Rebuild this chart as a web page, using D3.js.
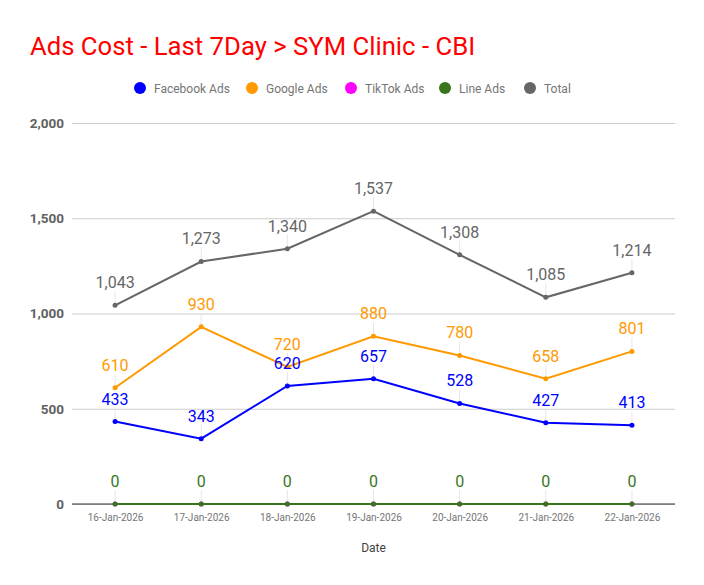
<!DOCTYPE html>
<html>
<head>
<meta charset="utf-8">
<script src="https://cdn.jsdelivr.net/npm/d3@7"></script>
<style>
  body { margin: 0; background: #fff; }
  text { font-family: Roboto, "Noto Sans", sans-serif; }
</style>
</head>
<body>
<script>
const svgWidth = 704;
const svgHeight = 585;

// data
const dates = ["16-Jan-2026", "17-Jan-2026", "18-Jan-2026", "19-Jan-2026", "20-Jan-2026", "21-Jan-2026", "22-Jan-2026"];
const facebookAds = [433, 343, 620, 657, 528, 427, 413];
const googleAds = [610, 930, 720, 880, 780, 658, 801];
const tiktokAds = [0, 0, 0, 0, 0, 0, 0];
const lineAds = [0, 0, 0, 0, 0, 0, 0];
const total = [1043, 1273, 1340, 1537, 1308, 1085, 1214];
const yTicks = [0, 500, 1000, 1500, 2000];

// TikTok sits under Line Ads, so only its legend entry and line show
const series = [
  { name: "Facebook Ads", values: facebookAds, color: "#0000ff", labels: true },
  { name: "Google Ads", values: googleAds, color: "#ff9900", labels: true },
  { name: "TikTok Ads", values: tiktokAds, color: "#ff00ff", labels: false },
  { name: "Line Ads", values: lineAds, color: "#38761d", labels: true },
  { name: "Total", values: total, color: "#666666", labels: true }
];

const margin = { top: 123, right: 29, bottom: 81, left: 72 };
const chartWidth = svgWidth - margin.left - margin.right;
const chartHeight = svgHeight - margin.top - margin.bottom;

const svg = d3.select("body").append("svg")
  .attr("width", svgWidth)
  .attr("height", svgHeight);

// title
svg.append("text")
  .attr("x", 30)
  .attr("y", 55)
  .attr("fill", "#ff0000")
  .style("font-size", "25.7px")
  .text("Ads Cost - Last 7Day > SYM Clinic - CBI");

// legend
const legendX = [140, 252, 351, 445, 530];
const legend = svg.append("g");
series.forEach((s, i) => {
  legend.append("circle")
    .attr("cx", legendX[i])
    .attr("cy", 88)
    .attr("r", 6)
    .attr("fill", s.color);
  legend.append("text")
    .attr("x", legendX[i] + 14)
    .attr("y", 92.5)
    .attr("fill", "#757575")
    .style("font-size", "12px")
    .text(s.name);
});

const chartGroup = svg.append("g")
  .attr("transform", `translate(${margin.left}, ${margin.top})`);

const xScale = d3.scalePoint()
  .domain(dates)
  .range([0, chartWidth])
  .padding(0.5);

const yScale = d3.scaleLinear()
  .domain([0, 2000])
  .range([chartHeight, 0]);

// gridlines + y labels
const yAxis = d3.axisLeft(yScale)
  .tickValues(yTicks)
  .tickSize(-chartWidth)
  .tickPadding(8)
  .tickFormat(d3.format(","));
chartGroup.append("g")
  .call(yAxis)
  .call(g => g.select(".domain").remove())
  .call(g => g.selectAll(".tick line").attr("stroke", "#cccccc"))
  .call(g => g.selectAll(".tick text")
    .attr("fill", "#616161")
    .style("font-size", "13.5px")
    .style("font-weight", "bold")
    .style("font-family", "Roboto, sans-serif"));

// x axis labels
const xAxis = d3.axisBottom(xScale).tickSize(0).tickPadding(10);
chartGroup.append("g")
  .attr("transform", `translate(0, ${chartHeight})`)
  .call(xAxis)
  .call(g => g.select(".domain").remove())
  .call(g => g.selectAll(".tick text")
    .attr("fill", "#757575")
    .style("font-size", "10px")
    .style("font-family", "Roboto, sans-serif"));

svg.append("text")
  .attr("x", margin.left + chartWidth / 2)
  .attr("y", 552)
  .attr("text-anchor", "middle")
  .attr("fill", "#444444")
  .style("font-size", "12px")
  .text("Date");

// leader lines from points up to labels
series.filter(s => s.labels).forEach(s => {
  chartGroup.append("g").selectAll("line")
    .data(s.values)
    .enter()
    .append("line")
    .attr("x1", (d, i) => xScale(dates[i]))
    .attr("x2", (d, i) => xScale(dates[i]))
    .attr("y1", d => yScale(d) - 1)
    .attr("y2", d => yScale(d) - 14)
    .attr("stroke", "#e6e6e6")
    .attr("stroke-width", 1);
});

// baseline
chartGroup.append("line")
  .attr("x1", 0)
  .attr("x2", chartWidth)
  .attr("y1", yScale(0))
  .attr("y2", yScale(0))
  .attr("stroke", "#333333")
  .attr("stroke-width", 1);

const line = d3.line()
  .x((d, i) => xScale(dates[i]))
  .y(d => yScale(d));

series.forEach(s => {
  chartGroup.append("path")
    .datum(s.values)
    .attr("d", line)
    .attr("fill", "none")
    .attr("stroke", s.color)
    .attr("stroke-width", 2);

  chartGroup.append("g").selectAll("circle")
    .data(s.values)
    .enter()
    .append("circle")
    .attr("cx", (d, i) => xScale(dates[i]))
    .attr("cy", d => yScale(d))
    .attr("r", 2.5)
    .attr("fill", s.color);
});

// data labels
series.filter(s => s.labels).forEach(s => {
  chartGroup.append("g").selectAll("text")
    .data(s.values)
    .enter()
    .append("text")
    .attr("x", (d, i) => xScale(dates[i]))
    .attr("y", d => yScale(d) - 17)
    .attr("text-anchor", "middle")
    .attr("fill", s.color)
    .style("font-size", "16px")
    .text(d => d3.format(",")(d));
});
</script>
</body>
</html>
